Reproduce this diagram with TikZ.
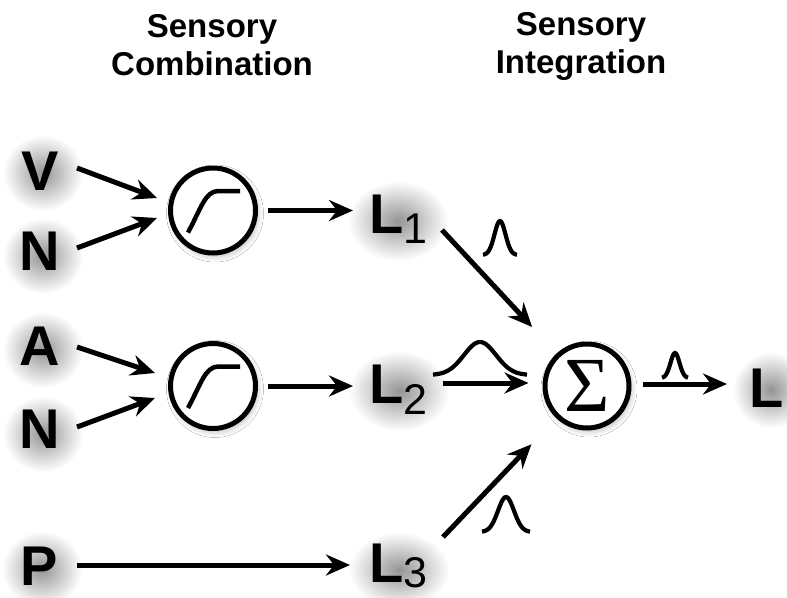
\documentclass[tikz,border=0pt]{standalone}
\usepackage{fontspec}
\setmainfont{Liberation Sans}
\newfontfamily\sigmafont{Liberation Serif}
\usetikzlibrary{arrows.meta,fadings,shadows.blur}

% soft round glow used as the drop shadow behind the big letters
\tikzfading[name=glowfade, inner color=transparent!58, outer color=transparent!100]

% lowered, regular-weight index digit
\newcommand\idx[2][10pt]{\raisebox{-#1}{\fontsize{43}{45}\selectfont\mdseries #2}}

\begin{document}
\begin{tikzpicture}[x=1pt,y=-1pt,
  letter/.style={font=\fontsize{56}{60}\selectfont\bfseries, inner sep=0pt, outer sep=0pt, anchor=base},
  lbl/.style={letter, anchor=base west},
  title/.style={font=\fontsize{33}{36}\selectfont\bfseries, inner sep=0pt, anchor=base},
  unit/.style={circle, draw, line width=5pt, fill=white, minimum size=85pt, inner sep=0pt,
    blur shadow={shadow xshift=2pt, shadow yshift=-3pt, shadow blur radius=6pt, shadow opacity=30}},
  arr/.style={line width=5pt, -{Stealth[length=24pt,width=21pt,inset=8pt]}},
  sigm/.style={line width=4.5pt},
  bell/.style={line width=4.2pt},
]
\useasboundingbox (0,0) rectangle (787,597);
\fill[white] (0,0) rectangle (787,597);

% drop shadows of the letters
\foreach \gx/\gy/\ga/\gb in {43/173/40/38, 43/256/40/38, 43/350/40/38, 43/434/40/38, 42/569/40/38,
                              398/221/50/40, 399/391/50/40, 399/570/50/38, 771/390/38/38}
  \fill[black, path fading=glowfade] (\gx,\gy) ellipse [x radius=\ga pt, y radius=\gb pt];

% column headings
\node[title] (t1) at (212,37) {Sensory};
\node[title] (t2) at (212,75) {Combination};
\node[title] (t3) at (581,35) {Sensory};
\node[title] (t4) at (581,73) {Integration};

% cues and estimates
\node[letter] (V)  at (40,190) {V};
\node[letter] (N1) at (40,270) {N};
\node[letter] (A)  at (40,365) {A};
\node[letter] (N2) at (40,448) {N};
\node[letter] (P)  at (39,585) {P};
\node[lbl] (L1) at (369,233) {L\idx{1}};
\node[lbl] (L2) at (369,403) {L\idx[11pt]{2}};
\node[lbl] (L3) at (369,582) {L\idx[5pt]{3}};
\node[letter] (L) at (767,407) {L};

% combination units and the summing unit
\node[unit] (C1) at (213,210.5) {};
\node[unit] (C2) at (213,386) {};
\node[unit, minimum size=84pt] (S) at (587,386) {\fontsize{78}{78}\sigmafont Σ};

% saturating nonlinearity inside each combination unit
\foreach \c in {C1,C2}
  \draw[sigm] ([shift={(-25,22)}]\c.center)
     .. controls ([shift={(-12,-2)}]\c.center) and ([shift={(-8,-19)}]\c.center)
     .. ([shift={(5,-19.5)}]\c.center) -- ([shift={(27,-19.5)}]\c.center);

% connections
\draw[arr] ([shift={(37,-22)}]V.base)  -- ([shift={(-56,-12.5)}]C1.center);
\draw[arr] ([shift={(37,-22)}]N1.base) -- ([shift={(-56,7.5)}]C1.center);
\draw[arr] ([shift={(37,-18)}]A.base)  -- ([shift={(-58,-13)}]C2.center);
\draw[arr] ([shift={(37,-21)}]N2.base) -- ([shift={(-58,12)}]C2.center);
\draw[arr] ([shift={(38,-20)}]P.base)  -- ([shift={(-19,-17)}]L3.base west);
\draw[arr, shorten <=10pt] (C1.east) -- ([shift={(-16,-22.5)}]L1.base west);
\draw[arr, shorten <=10pt] (C2.east) -- ([shift={(-16,-17)}]L2.base west);
\draw[arr, shorten >=36pt] ([shift={(73,-3)}]L1.base west) -- (S);
\draw[arr, shorten >=14pt] ([shift={(74,-20)}]L2.base west) -- ([yshift=3pt]S.west);
\draw[arr, shorten >=36pt] ([shift={(74,-45)}]L3.base west) -- (S);
\draw[arr, shorten <=11pt] ([yshift=2pt]S.east) -- ([shift={(-40,-23)}]L.base);

% likelihood profiles carried by each estimate
\draw[bell] plot[domain=483:517, samples=41, smooth] (\x, {255-34*exp(-((\x-500)*(\x-500))/60.5)});
\draw[bell] plot[domain=433:527, samples=61, smooth] (\x, {375-33*exp(-((\x-480)*(\x-480))/512)});
\draw[bell] plot[domain=482:530, samples=41, smooth] (\x, {532-35*exp(-((\x-506)*(\x-506))/128)});
\draw[bell] plot[domain=662:688, samples=31, smooth] (\x, {378-25*exp(-((\x-675)*(\x-675))/40.5)});
\end{tikzpicture}
\end{document}
